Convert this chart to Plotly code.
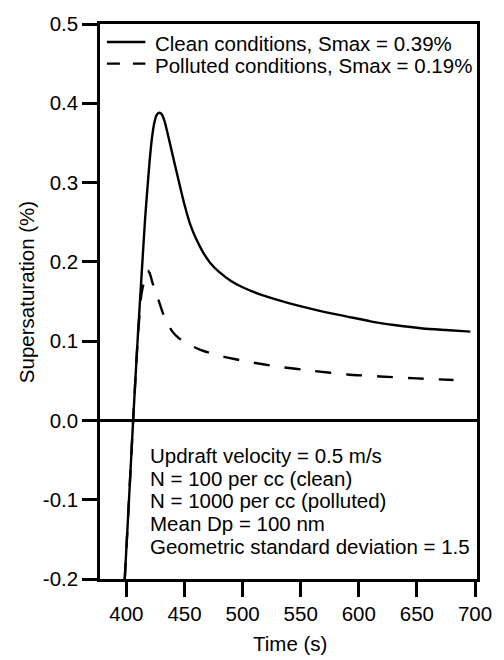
import plotly.graph_objects as go

# ---------------- data ----------------
time_clean = [398.6, 402, 406, 410, 414, 416, 418, 420, 422, 424, 426, 428.3, 430.5,
              432.5, 435, 438, 442, 446, 450, 455, 460, 466, 472, 480, 490, 500, 515,
              530, 547, 570, 590, 610, 632, 655, 675, 696]
ss_clean = [-0.200, -0.107, 0.005, 0.110, 0.205, 0.252, 0.291, 0.327, 0.356, 0.375,
            0.385, 0.388, 0.386, 0.379, 0.365, 0.346, 0.321, 0.296, 0.272, 0.247,
            0.229, 0.212, 0.199, 0.187, 0.176, 0.168, 0.159, 0.152, 0.145, 0.137,
            0.131, 0.125, 0.120, 0.116, 0.114, 0.112]

time_polluted = [398.6, 402, 406, 410, 413, 415.5, 417, 418.4, 420, 422.6, 425.5,
                 428.3, 431, 434, 439.6, 445, 452.3, 463.7, 482, 504.7, 530, 561,
                 590, 618, 650, 681.5]
ss_polluted = [-0.200, -0.107, 0.005, 0.108, 0.160, 0.177, 0.186, 0.189, 0.186, 0.173,
               0.161, 0.149, 0.137, 0.126, 0.112, 0.104, 0.097, 0.089, 0.081, 0.074,
               0.068, 0.0624, 0.058, 0.0555, 0.053, 0.051]

x_tick_vals = [400, 450, 500, 550, 600, 650, 700]
x_tick_text = ["400", "450", "500", "550", "600", "650", "700"]
y_tick_vals = [-0.2, -0.1, 0.0, 0.1, 0.2, 0.3, 0.4, 0.5]
y_tick_text = ["-0.2", "-0.1", "0.0", "0.1", "0.2", "0.3", "0.4", "0.5"]

legend_labels = ["Clean conditions, Smax = 0.39%", "Polluted conditions, Smax = 0.19%"]
info_lines = ["Updraft velocity = 0.5 m/s",
              "N = 100 per cc (clean)",
              "N = 1000 per cc (polluted)",
              "Mean Dp = 100 nm",
              "Geometric standard deviation = 1.5"]
x_title = "Time (s)"
y_title = "Supersaturation (%)"

# ---------------- layout helpers ----------------
W, H = 504, 660
L, R, T, B = 100, 22, 14, 81
PW, PH = W - L - R, H - T - B
FONT = "Liberation Sans, Arial, Helvetica, sans-serif"
FS = 20.5
LW = 2.4


def px(x):
    return (x - L) / PW


def py(y):
    return (H - B - y) / PH


fig = go.Figure()
fig.add_trace(go.Scatter(x=time_clean, y=ss_clean, mode="lines", name=legend_labels[0],
                         line=dict(color="black", width=LW, shape="spline", smoothing=0.6),
                         showlegend=False))
fig.add_trace(go.Scatter(x=time_polluted, y=ss_polluted, mode="lines", name=legend_labels[1],
                         line=dict(color="black", width=LW, dash="16px,15px",
                                   shape="spline", smoothing=0.6),
                         showlegend=False))

axis_common = dict(showline=True, linecolor="black", linewidth=2.5, mirror=True,
                   ticks="outside", ticklen=15, tickwidth=2.5, tickcolor="black",
                   showgrid=False, tickfont=dict(family=FONT, size=FS, color="black"))

fig.update_xaxes(range=[377.3, 701.7], tickvals=x_tick_vals, ticktext=x_tick_text,
                 zeroline=False, **axis_common)
fig.update_yaxes(range=[-0.2, 0.5], tickvals=y_tick_vals, ticktext=y_tick_text,
                 zeroline=True, zerolinecolor="black", zerolinewidth=2.5, **axis_common)

shapes = []
annotations = []
# legend
leg_rows = [(32.3, 33.8, "solid"), (54.3, 55.8, "13px,13px")]
for (ly, ty, dash), label in zip(leg_rows, legend_labels):
    shapes.append(dict(type="line", xref="paper", yref="paper", x0=px(107), x1=px(146),
                       y0=py(ly), y1=py(ly), line=dict(color="black", width=LW, dash=dash)))
    annotations.append(dict(text=label, xref="paper", yref="paper", x=px(154), y=py(ty),
                            xanchor="left", yanchor="middle", showarrow=False,
                            font=dict(family=FONT, size=FS, color="black")))

# info text
for i, line in enumerate(info_lines):
    annotations.append(dict(text=line, xref="paper", yref="paper", x=px(149),
                            y=py(453 + 23.2 * i), xanchor="left", yanchor="middle",
                            showarrow=False, font=dict(family=FONT, size=FS, color="black")))

# axis titles
annotations.append(dict(text=x_title, xref="paper", yref="paper", x=px(293), y=py(645),
                        xanchor="center", yanchor="middle", showarrow=False,
                        font=dict(family=FONT, size=FS, color="black")))
annotations.append(dict(text=y_title, xref="paper", yref="paper", x=px(25), y=py(287),
                        xanchor="center", yanchor="middle", showarrow=False, textangle=-90,
                        font=dict(family=FONT, size=FS, color="black")))

fig.update_layout(width=W, height=H, margin=dict(l=L, r=R, t=T, b=B),
                  plot_bgcolor="white", paper_bgcolor="white",
                  shapes=shapes, annotations=annotations, showlegend=False)

fig.write_html("out.html")
